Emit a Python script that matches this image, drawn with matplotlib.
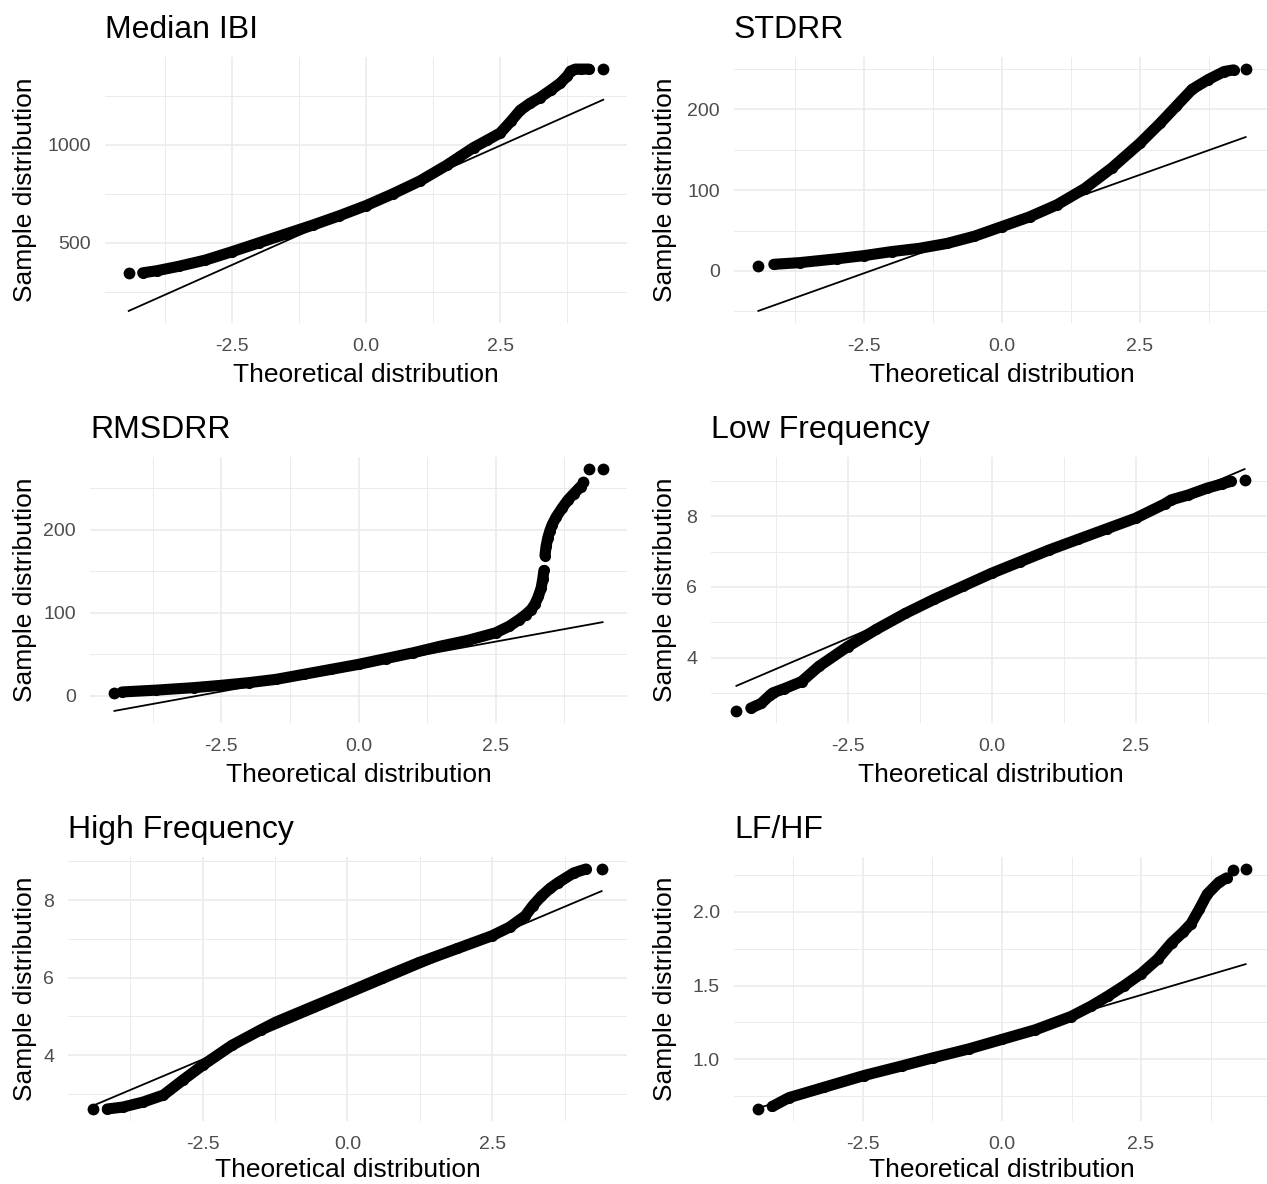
import matplotlib
matplotlib.use("Agg")
import matplotlib.pyplot as plt
from matplotlib.ticker import MultipleLocator, FormatStrFormatter

plt.rcParams['font.family'] = ['Liberation Sans', 'DejaVu Sans']
plt.rcParams['axes.unicode_minus'] = False

# ---------------- data ----------------
titles = ["Median IBI", "STDRR", "RMSDRR", "Low Frequency", "High Frequency", "LF/HF"]

# Median IBI
ibi_x = [-4.17, -3.9, -3.5, -3.0, -2.5, -2.0, -1.5, -1.0, -0.5, 0.0, 0.5, 1.0, 1.5, 1.75, 2.0, 2.25,
         2.5, 2.7, 2.87, 3.05, 3.24, 3.45, 3.62, 3.75, 3.81, 3.9, 4.0, 4.15]
ibi_y = [347, 358, 380, 412, 455, 500, 545, 590, 638, 690, 750, 815, 895, 940, 985, 1022,
         1060, 1120, 1175, 1210, 1240, 1280, 1314, 1350, 1375, 1385, 1385, 1385]
ibi_dots_x = [-4.43, 4.42]
ibi_dots_y = [344, 1385]
ibi_line_x = [-4.43, 4.42]
ibi_line_y = [153, 1229]

# STDRR
std_x = [-4.14, -3.67, -3.0, -2.5, -2.0, -1.5, -1.0, -0.5, 0.0, 0.5, 1.0, 1.5, 2.0, 2.5,
         2.87, 3.16, 3.45, 3.74, 4.03, 4.2]
std_y = [8.2, 10.3, 15, 19, 24, 28, 34, 43, 55, 67, 82, 102, 128, 158,
         183, 204, 225, 237, 247, 249]
std_dots_x = [-4.42, 4.42]
std_dots_y = [6.2, 250]
std_line_x = [-4.42, 4.42]
std_line_y = [-49.5, 165.8]

# RMSDRR (two runs of points with a gap between them)
rms_x = [-4.31, -3.69, -3.0, -2.5, -2.0, -1.5, -1.0, -0.5, 0.0, 0.5, 1.0, 1.5, 2.0, 2.5,
         2.75, 2.93, 3.05, 3.15, 3.22, 3.28, 3.33, 3.36, 3.38]
rms_y = [4.8, 7, 10, 12.8, 16, 20, 26, 32, 38, 45, 52, 60, 67, 76,
         84, 92, 98, 104, 111, 120, 130, 141, 151]
rms_top_x = [3.4, 3.42, 3.45, 3.49, 3.53, 3.6, 3.71, 3.82, 3.92, 4.05]
rms_top_y = [169, 180, 190, 199, 206, 215, 226, 236, 243, 252]
rms_dots_x = [-4.45, 4.09, 4.2, 4.45]
rms_dots_y = [4, 257, 273, 273]
rms_line_x = [-4.45, 4.45]
rms_line_y = [-18, 88.8]

# Low Frequency
lf_x = [-4.18, -4.0, -3.85, -3.8, -3.6, -3.3, -3.0, -2.5, -2.0, -1.5, -1.0, -0.5, 0.0, 0.5,
        1.0, 1.5, 2.0, 2.5, 3.0, 3.12, 3.4, 3.74, 4.0, 4.15]
lf_y = [2.57, 2.7, 2.93, 3.0, 3.12, 3.32, 3.75, 4.31, 4.8, 5.25, 5.65, 6.02, 6.39, 6.72,
        7.05, 7.35, 7.65, 7.95, 8.35, 8.47, 8.6, 8.8, 8.92, 8.99]
lf_dots_x = [-4.43, 4.39]
lf_dots_y = [2.49, 9.04]
lf_line_x = [-4.43, 4.39]
lf_line_y = [3.2, 9.34]

# High Frequency
hf_x = [-4.15, -3.88, -3.53, -3.18, -2.85, -2.5, -2.0, -1.5, -1.24, -0.6, 0.0, 0.6, 1.24, 1.9,
        2.5, 2.8, 3.07, 3.2, 3.35, 3.5, 3.63, 3.91, 4.12]
hf_y = [2.61, 2.66, 2.79, 2.97, 3.35, 3.74, 4.25, 4.65, 4.85, 5.25, 5.62, 6.0, 6.39, 6.75,
        7.08, 7.3, 7.59, 7.85, 8.1, 8.3, 8.44, 8.7, 8.8]
hf_dots_x = [-4.39, 4.39]
hf_dots_y = [2.61, 8.8]
hf_line_x = [-4.39, 4.39]
hf_line_y = [2.7, 8.23]

# LF/HF
ratio_x = [-4.13, -3.83, -3.2, -2.48, -1.8, -1.24, -0.6, 0.0, 0.6, 1.24, 1.6, 1.91, 2.2, 2.5,
           2.8, 3.05, 3.25, 3.4, 3.55, 3.69, 3.9, 4.04]
ratio_y = [0.68, 0.74, 0.81, 0.89, 0.955, 1.01, 1.07, 1.135, 1.2, 1.29, 1.36, 1.43, 1.5, 1.58,
           1.68, 1.79, 1.86, 1.92, 2.02, 2.12, 2.2, 2.23]
ratio_dots_x = [-4.38, 4.15, 4.38]
ratio_dots_y = [0.663, 2.28, 2.29]
ratio_line_x = [-4.38, 4.38]
ratio_line_y = [0.67, 1.645]

panels = [
    dict(curves=[(ibi_x, ibi_y)], dots=(ibi_dots_x, ibi_dots_y), line=(ibi_line_x, ibi_line_y),
         ymaj=500, ymin=250, yfmt='%d'),
    dict(curves=[(std_x, std_y)], dots=(std_dots_x, std_dots_y), line=(std_line_x, std_line_y),
         ymaj=100, ymin=50, yfmt='%d'),
    dict(curves=[(rms_x, rms_y), (rms_top_x, rms_top_y)], dots=(rms_dots_x, rms_dots_y),
         line=(rms_line_x, rms_line_y), ymaj=100, ymin=50, yfmt='%d'),
    dict(curves=[(lf_x, lf_y)], dots=(lf_dots_x, lf_dots_y), line=(lf_line_x, lf_line_y),
         ymaj=2, ymin=1, yfmt='%d'),
    dict(curves=[(hf_x, hf_y)], dots=(hf_dots_x, hf_dots_y), line=(hf_line_x, hf_line_y),
         ymaj=2, ymin=1, yfmt='%d'),
    dict(curves=[(ratio_x, ratio_y)], dots=(ratio_dots_x, ratio_dots_y), line=(ratio_line_x, ratio_line_y),
         ymaj=0.5, ymin=0.25, yfmt='%.1f'),
]

# ---------------- layout (pixel boxes: left, right, top, bottom) ----------------
W, H = 1267, 1184
boxes = [
    (105, 627, 57, 323), (734, 1270, 57, 323),
    (90, 627, 457, 723), (711, 1270, 457, 723),
    (68, 627, 857, 1121), (734, 1270, 857, 1121),
]
xlab_base = [382, 382, 782, 782, 1177, 1177]
ylab_x = [25, 665, 25, 665, 25, 665]

fig = plt.figure(figsize=(W / 100, H / 100), dpi=100)
fig.patch.set_facecolor('white')

MS = 8.0
for i, (p, (l, r, t, b)) in enumerate(zip(panels, boxes)):
    ax = fig.add_axes([l / W, 1 - b / H, (r - l) / W, (b - t) / H])
    ax.set_facecolor('white')
    for s in ax.spines.values():
        s.set_visible(False)
    ax.set_axisbelow(True)
    ax.xaxis.set_major_locator(MultipleLocator(2.5))
    ax.xaxis.set_minor_locator(MultipleLocator(1.25))
    ax.yaxis.set_major_locator(MultipleLocator(p['ymaj']))
    ax.yaxis.set_minor_locator(MultipleLocator(p['ymin']))
    ax.xaxis.set_major_formatter(FormatStrFormatter('%.1f'))
    ax.yaxis.set_major_formatter(FormatStrFormatter(p['yfmt']))
    ax.grid(which='major', color='#EBEBEB', lw=1.2)
    ax.grid(which='minor', color='#EBEBEB', lw=0.7)
    ax.tick_params(which='both', length=0)
    ax.tick_params(axis='x', pad=11, labelsize=14, labelcolor='#4D4D4D')
    ax.tick_params(axis='y', pad=10, labelsize=14, labelcolor='#4D4D4D')

    for cx, cy in p['curves']:
        ax.plot(cx, cy, color='black', lw=MS, marker='o', ms=MS, mew=0,
                solid_capstyle='round', solid_joinstyle='round', zorder=3)
    ax.plot(p['dots'][0], p['dots'][1], 'o', color='black', ms=MS + 0.5, mew=0, zorder=3)
    ax.plot(p['line'][0], p['line'][1], color='black', lw=1.3, zorder=4)
    ax.margins(0.05)

    fig.text(l / W, 1 - (t - 19) / H, titles[i], fontsize=23, ha='left', va='baseline')
    fig.text((l + r) / 2 / W, 1 - xlab_base[i] / H, "Theoretical distribution",
             fontsize=19, ha='center', va='baseline')
    fig.text(ylab_x[i] / W, 1 - (t + b) / 2 / H, "Sample distribution",
             fontsize=19, ha='center', va='center', rotation=90)

fig.savefig("out.png", dpi=100, facecolor='white')
